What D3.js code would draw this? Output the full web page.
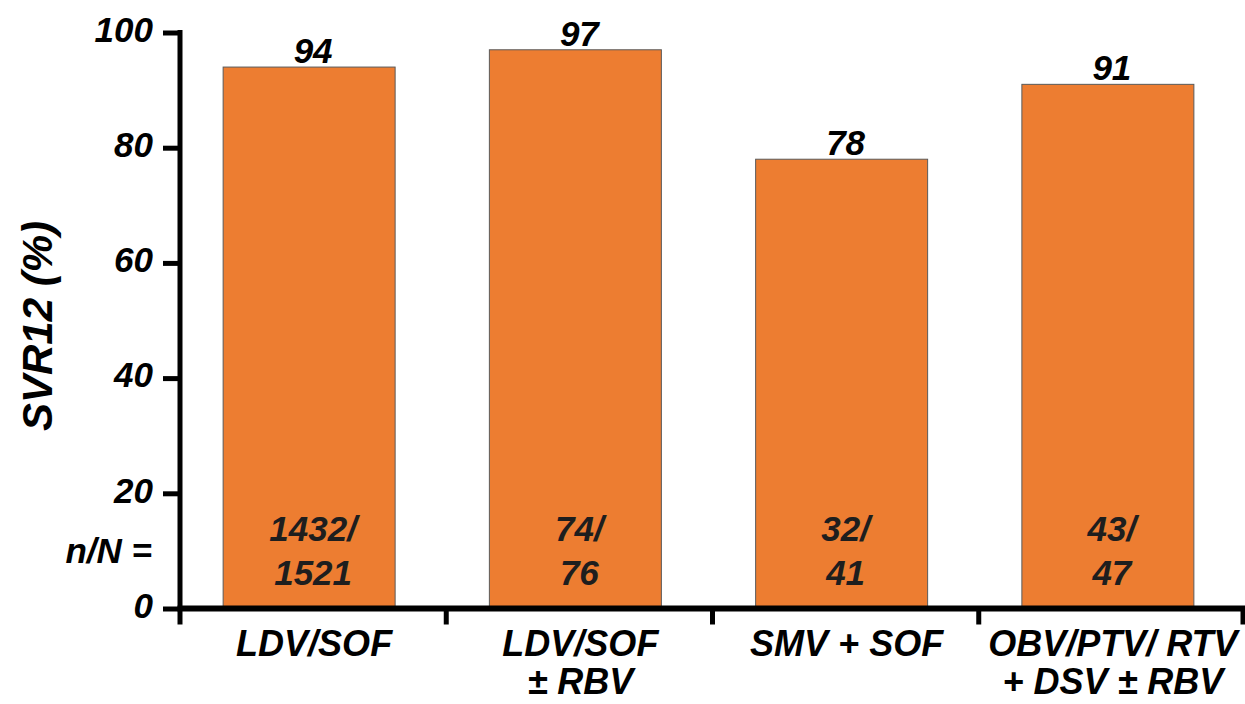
<!DOCTYPE html>
<html>
<head>
<meta charset="utf-8">
<script src="https://cdn.jsdelivr.net/npm/d3@7"></script>
<style>
  html, body { margin: 0; padding: 0; background: #fff; }
  svg { display: block; font-family: "Liberation Sans", Arial, Helvetica, sans-serif; }
</style>
</head>
<body>
<svg id="chart" width="1245" height="704"></svg>
<script>
// Regimens (two-line labels), SVR12 rates and n/N counts
const categories = [
  ["LDV/SOF"],
  ["LDV/SOF", "± RBV"],
  ["SMV + SOF"],
  ["OBV/PTV/ RTV", "+ DSV ± RBV"]
];
const svr12 = [94, 97, 78, 91];
const responders = [1432, 74, 32, 43];
const totals = [1521, 76, 41, 47];
const yTicks = [0, 20, 40, 60, 80, 100];

const svg = d3.select("#chart");
const plotLeft = 180, plotRight = 1245, plotTop = 32.5, plotBottom = 608.5;

const x = d3.scaleBand()
  .domain(d3.range(categories.length))
  .range([plotLeft, plotRight])
  .paddingInner(0).paddingOuter(0);

const barWidth = 172;

const y = d3.scaleLinear().domain([0, 100]).range([plotBottom, plotTop]);

// Bars
svg.append("g").selectAll("rect")
  .data(svr12)
  .join("rect")
  .attr("x", (d, i) => x(i) + x.bandwidth() / 2 - barWidth / 2 - 4)
  .attr("y", d => y(d))
  .attr("width", barWidth)
  .attr("height", d => y(0) - y(d))
  .attr("fill", "#ED7D31")
  .attr("stroke", "#5a5a5a")
  .attr("stroke-width", 1);

// Value labels above bars
svg.append("g").selectAll("text")
  .data(svr12)
  .join("text")
  .attr("x", (d, i) => x(i) + x.bandwidth() / 2)
  .attr("y", d => y(d) - 4)
  .attr("text-anchor", "middle")
  .attr("font-size", 35)
  .attr("font-weight", "bold")
  .attr("font-style", "italic")
  .attr("fill", "#000")
  .text(d => d);

// n/N labels inside bars
const nn = svg.append("g").selectAll("text")
  .data(responders)
  .join("text")
  .attr("text-anchor", "middle")
  .attr("font-size", 35)
  .attr("font-weight", "bold")
  .attr("font-style", "italic")
  .attr("fill", "#1e1e1e");
nn.append("tspan")
  .attr("x", (d, i) => x(i) + x.bandwidth() / 2)
  .attr("y", 541)
  .text(d => d + "/");
nn.append("tspan")
  .attr("x", (d, i) => x(i) + x.bandwidth() / 2)
  .attr("y", 585)
  .text((d, i) => totals[i]);

svg.append("text")
  .attr("x", 152).attr("y", 563)
  .attr("text-anchor", "end")
  .attr("font-size", 35)
  .attr("font-weight", "bold")
  .attr("font-style", "italic")
  .attr("fill", "#000")
  .text("n/N =");

// Y axis
const yAxis = svg.append("g")
  .attr("transform", `translate(${plotLeft},0)`)
  .call(d3.axisLeft(y).tickValues(yTicks).tickSize(17).tickSizeOuter(0).tickPadding(10));
yAxis.select(".domain").attr("stroke", "#000").attr("stroke-width", 5)
  .attr("d", `M0,${plotTop - 2.5}V${plotBottom + 2.5}`);
yAxis.selectAll(".tick line").attr("stroke", "#000").attr("stroke-width", 5);
yAxis.selectAll(".tick text")
  .attr("font-size", 35)
  .attr("font-weight", "bold")
  .attr("font-style", "italic")
  .attr("font-family", "'Liberation Sans', Arial, sans-serif")
  .attr("fill", "#000")
  .attr("dy", "0.25em");

// X axis with ticks at category boundaries
const xAxis = svg.append("g").attr("transform", `translate(0,${plotBottom})`);
xAxis.append("line")
  .attr("x1", plotLeft - 2.5).attr("x2", plotRight)
  .attr("stroke", "#000").attr("stroke-width", 6);
xAxis.selectAll("line.tick")
  .data(d3.range(categories.length + 1))
  .join("line")
  .attr("class", "tick")
  .attr("x1", i => i < categories.length ? x(i) : plotRight - 2)
  .attr("x2", i => i < categories.length ? x(i) : plotRight - 2)
  .attr("y1", 0).attr("y2", 16)
  .attr("stroke", "#000").attr("stroke-width", 5);

const xl = svg.append("g").selectAll("text")
  .data(categories)
  .join("text")
  .attr("text-anchor", "middle")
  .attr("font-size", 36)
  .attr("font-weight", "bold")
  .attr("font-style", "italic")
  .attr("fill", "#000");
xl.selectAll("tspan")
  .data((d, i) => d.map((t, j) => ({ t, j, i })))
  .join("tspan")
  .attr("x", d => x(d.i) + x.bandwidth() / 2 + 1)
  .attr("y", d => 656 + d.j * 38)
  .text(d => d.t);

// Y axis title
svg.append("text")
  .attr("transform", `translate(52,${326}) rotate(-90)`)
  .attr("text-anchor", "middle")
  .attr("font-size", 42)
  .attr("font-weight", "bold")
  .attr("font-style", "italic")
  .attr("fill", "#000")
  .text("SVR12 (%)");
</script>
</body>
</html>
